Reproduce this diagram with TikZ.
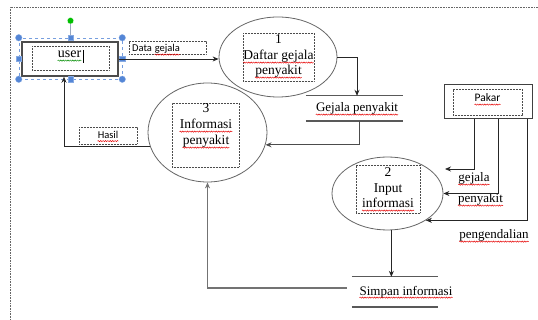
\documentclass[tikz,border=0pt]{standalone}
\usepackage{fontspec}
\setmainfont{Liberation Serif}
\newfontfamily\calib{Carlito}
\usetikzlibrary{arrows.meta,shapes.geometric,calc,decorations.pathmorphing}
\definecolor{handleblue}{RGB}{84,134,214}

\begin{document}
\begin{tikzpicture}[>={Stealth[length=6pt,width=5pt]}, x=1pt, y=-1pt,
    proc/.style={ellipse, draw=black!60, line width=0.8pt, inner sep=0pt},
    tbox/.style={draw=black!70, line width=0.6pt, dash pattern=on 0.6pt off 0.9pt, inner sep=0pt},
    txt/.style={font=\fontsize{13.5}{15.5}\selectfont, inner sep=0pt, anchor=base},
    lbl/.style={font=\fontsize{13}{15}\selectfont, inner sep=0pt, anchor=base},
    sans/.style={font=\calib\fontsize{10.5}{12}\selectfont, inner sep=0pt, anchor=base},
    flow/.style={->, draw=black!85, line width=0.8pt},
    store/.style={draw=black!65, line width=1.4pt},
    wave/.style={draw=red!90!black, line width=0.45pt, decorate,
      decoration={snake, amplitude=0.6pt, segment length=2.4pt}},
    hdl/.style={fill=handleblue, draw=handleblue!70!white, line width=0.3pt}]
  \useasboundingbox (0,0) rectangle (538,320);
  % canvas
  \draw[black!60, line width=0.8pt, dash pattern=on 0.8pt off 0.8pt] (538,7) -- (10,7) -- (10,320);

  % user
  \node[draw=black!70, line width=1.5pt, minimum width=96, minimum height=34, inner sep=0pt] (user) at (70,59) {};
  \node[tbox, minimum width=77, minimum height=24] (tbu) at (70.5,58) {};
  \node[lbl, font=\fontsize{14}{16}\selectfont] (ut) at (69.5,58) {user};
  \draw[wave, draw=green!55!black] ([yshift=-2.6pt]ut.base west) -- ([yshift=-2.6pt]ut.base east);
  \draw[line width=0.9pt] (83.5,50) -- (83.5,63);
  % selection of user
  \node[draw=handleblue!80!white, dashed, line width=0.5pt, minimum width=103, minimum height=41, inner sep=0pt] (sel) at (70.5,58.5) {};
  \draw[handleblue!60!black!50, line width=0.8pt] (sel.north) -- ++(0,-14) coordinate (rot);
  \fill[green!75!black, draw=white, line width=0.3pt] (rot) ++(0,-3) circle (3.3);
  \foreach \a in {north west,north east,south west,south east}
    \filldraw[hdl] (sel.\a) circle (3.3);
  \foreach \a in {north,south,west,east}
    \filldraw[hdl] ($(sel.\a)+(-2.8,-2.8)$) rectangle ++(5.6,5.6);

  % processes
  \node[proc, minimum width=118, minimum height=80] (p1) at (278,57) {};
  \node[tbox, minimum width=71, minimum height=48] (tb1) at (278.5,57) {};
  \node[txt] (l1a) at (278.5,44) {1};
  \node[txt] (l1b) at (278.5,60) {Daftar gejala};
  \node[txt] (l1c) at (278.5,75) {penyakit};

  \node[proc, minimum width=119, minimum height=99] (p3) at (207.5,132.5) {};
  \node[tbox, minimum width=67, minimum height=64] (tb3) at (205.5,135) {};
  \node[txt] (l3a) at (206,113) {3};
  \node[txt] (l3b) at (206,129) {Informasi};
  \node[txt] (l3c) at (206,145) {penyakit};

  \node[proc, minimum width=111, minimum height=73] (p2) at (387.5,193.5) {};
  \node[tbox, minimum width=64, minimum height=48] (tb2) at (388,189) {};
  \node[txt] (l2a) at (388,177) {2};
  \node[txt] (l2b) at (388,193) {Input};
  \node[txt] (l2c) at (388,208) {informasi};

  % pakar
  \node[draw=black!75, line width=1pt, minimum width=88, minimum height=34, inner sep=0pt] (pakar) at (488,102) {};
  \node[tbox, minimum width=69, minimum height=26] (tbp) at (487.5,102) {};
  \node[sans, font=\calib\fontsize{11.5}{13}\selectfont] (pk) at (487.5,102) {Pakar};

  % data stores
  \node[minimum width=97, minimum height=25, inner sep=0pt] (s1) at (354.5,108.5) {};
  \draw[store] (s1.north west) -- (s1.north east);
  \draw[store] (s1.south west) -- (s1.south east);
  \node[lbl] (gp) at (357,112) {Gejala penyakit};
  \node[minimum width=86, minimum height=30, inner sep=0pt] (s2) at (395,292) {};
  \draw[store] (s2.north west) -- (s2.north east);
  \draw[store] (s2.south west) -- (s2.south east);
  \node[lbl] (si) at (406,295) {Simpan informasi};

  % flow labels
  \node[tbox, minimum width=77, minimum height=13] (dg) at (167.5,47.5) {};
  \node[sans, anchor=base west] (dga) at (132,52) {Data};
  \node[sans, anchor=base west] (dgb) at ([xshift=2.4pt]dga.base east) {gejala};
  \node[tbox, minimum width=58, minimum height=17] (hs) at (108,135.5) {};
  \node[sans] (hl) at (108,138.5) {Hasil};
  \node[lbl] (fg) at (474,182) {gejala};
  \node[lbl] (fp) at (480.5,203) {penyakit};
  \node[lbl] (fk) at (494,239) {pengendalian};

  % spelling waves
  \foreach \n in {l1b,l1c,l3b,l3c,l2c,pk,gp,si,dgb,hl,fg,fp,fk}
    \draw[wave] ([yshift=-2.6pt]\n.base west) -- ([yshift=-2.6pt]\n.base east);

  % flows
  \coordinate (in1) at (445,169);
  \draw[flow] (user.east) -- (user.east -| p1.west);
  \draw[flow] (p1.east) -| ([xshift=2.5pt]s1.north);
  \draw[flow, draw=black!70, line width=1pt] ([xshift=4.5pt]s1.south) |- (p3.-12);
  \draw[flow] (p3.194) -| ([xshift=-6pt]user.south);
  \draw[flow] ([xshift=-14pt]pakar.south) |- (in1);
  \draw[flow] ([xshift=10pt]pakar.south) |- (p2.east);
  \draw[flow] ([xshift=39pt]pakar.south) |- (p2.-35);
  \draw[flow] (p2.-84) -- (p2.-84 |- s2.north);
  \draw[flow, draw=black!55, line width=1.3pt] ([shift={(-5pt,4pt)}]s2.west) -| (p3.south);
\end{tikzpicture}
\end{document}
